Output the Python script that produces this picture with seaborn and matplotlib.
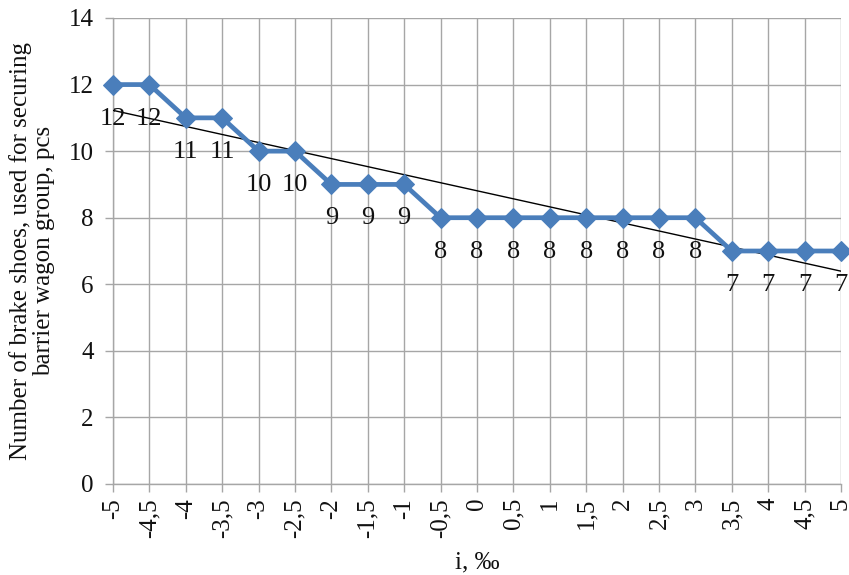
import numpy as np
import pandas as pd
import matplotlib
matplotlib.use("Agg")
import matplotlib.pyplot as plt
import seaborn as sns

# Gradient i (‰) and number of brake shoes required
gradients = ["-5", "-4,5", "-4", "-3,5", "-3", "-2,5", "-2", "-1,5", "-1", "-0,5", "0",
             "0,5", "1", "1,5", "2", "2,5", "3", "3,5", "4", "4,5", "5"]
gradient_values = [-5, -4.5, -4, -3.5, -3, -2.5, -2, -1.5, -1, -0.5, 0,
                   0.5, 1, 1.5, 2, 2.5, 3, 3.5, 4, 4.5, 5]
shoes = [12, 12, 11, 11, 10, 10, 9, 9, 9, 8, 8, 8, 8, 8, 8, 8, 8, 7, 7, 7, 7]

sns.set_theme(style="white")
plt.rcParams["font.family"] = ["Liberation Serif", "DejaVu Serif"]

df = pd.DataFrame({"pos": np.arange(len(gradients)), "i": gradient_values, "n": shoes})

fig = plt.figure(figsize=(8.49, 5.75), dpi=100)
ax = fig.add_axes([113 / 849, 1 - 484 / 575, (841 - 113) / 849, (484 - 18) / 575])

grid_color = "#a6a6a6"
ax.set_axisbelow(True)
ax.grid(True, color=grid_color, linewidth=1.0)

# Linear trend line
slope, intercept = np.polyfit(df["i"], df["n"], 1)
trend = intercept + slope * df["i"]
ax.plot(df["pos"], trend, color="black", linewidth=1.0, zorder=3)

sns.lineplot(data=df, x="pos", y="n", ax=ax, color="#4a7ebb", linewidth=3.4,
             marker="D", markersize=10.5, markeredgecolor="#4a7ebb", zorder=4,
             clip_on=False)

for p, v in zip(df["pos"], df["n"]):
    ax.annotate(str(v), (p, v), xytext=(0, -24.5), textcoords="offset points",
                ha="center", va="center", fontsize=19, color="#111111", zorder=5)

ax.set_xlim(0, len(gradients) - 1)
ax.set_ylim(0, 14)
ax.set_yticks(range(0, 15, 2))
ax.set_xticks(df["pos"])
ax.set_xticklabels(gradients, rotation=90)
ax.tick_params(axis="both", labelsize=18, labelcolor="#111111", length=6, width=1.0,
               direction="out", bottom=True, left=True, color=grid_color)
ax.tick_params(axis="y", pad=8)
ax.tick_params(axis="x", pad=4)

for side in ["top", "right"]:
    ax.spines[side].set_visible(False)
for side in ["left", "bottom"]:
    ax.spines[side].set_color(grid_color)
    ax.spines[side].set_linewidth(1.0)

ax.set_xlabel("i, ‰", fontsize=18, labelpad=10, color="#111111")
ax.set_ylabel("Number of brake shoes, used for securing\nbarrier wagon group, pcs",
              fontsize=18, labelpad=10, linespacing=1.05, color="#111111")

fig.savefig("out.png", dpi=100)
